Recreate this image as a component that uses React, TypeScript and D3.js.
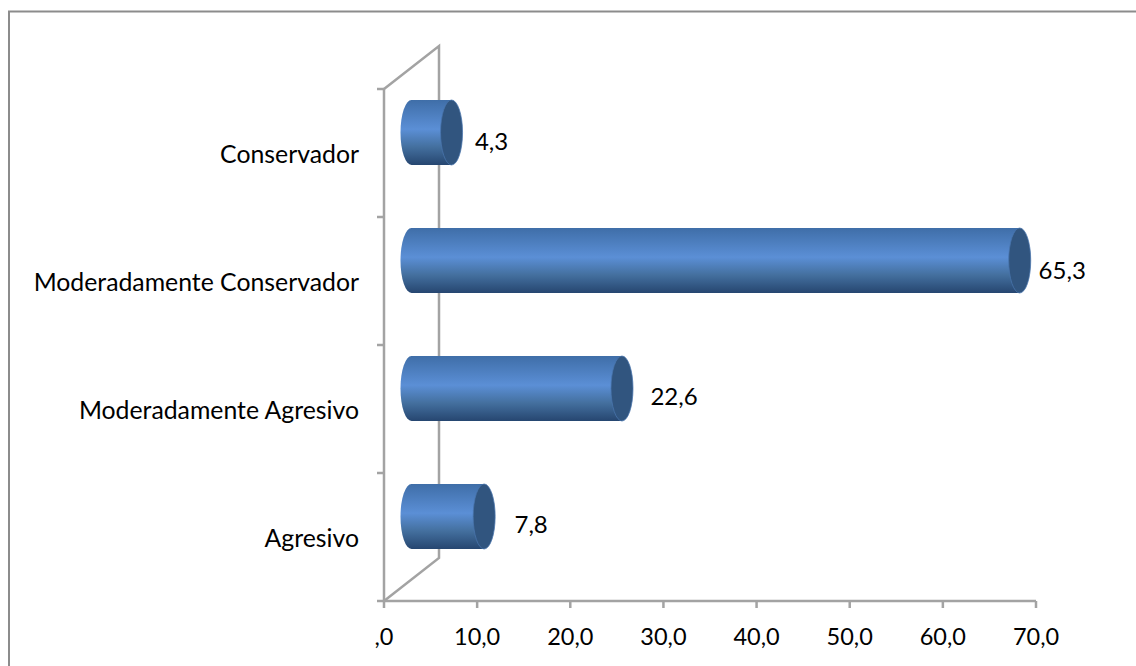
import { useEffect, useRef } from 'react';
import * as d3 from 'd3';

const categories = ['Conservador', 'Moderadamente Conservador', 'Moderadamente Agresivo', 'Agresivo'];
const values = [4.3, 65.3, 22.6, 7.8];
const valueLabels = ['4,3', '65,3', '22,6', '7,8'];
const xTicks = [0, 10, 20, 30, 40, 50, 60, 70];
const xTickLabels = [',0', '10,0', '20,0', '30,0', '40,0', '50,0', '60,0', '70,0'];

const width = 1136;
const height = 666;
const font = "Lato, 'Open Sans', sans-serif";
const axisColor = '#a3a3a3';

export default function App() {
  const svgRef = useRef<SVGSVGElement>(null);

  useEffect(() => {
    if (!svgRef.current) return;
    const svg = d3.select(svgRef.current);
    svg.selectAll('*').remove();

    const x = d3.scaleLinear().domain([0, 70]).range([384, 1036]);
    const y = d3.scaleBand<string>().domain(categories).range([89, 601]);
    const depthX = 55;
    const depthY = 43;
    const capRx = 11;
    const barH = 65;
    const top = 89;
    const bottom = 601;
    // data labels sit a little unevenly in the original
    const labelDx = [40, 42.5, 52, 47];
    const labelDy = [17.5, 18, 16, 16];

    const defs = svg.append('defs');
    const grad = defs
      .append('linearGradient')
      .attr('id', 'cyl')
      .attr('x1', '0%')
      .attr('x2', '0%')
      .attr('y1', '0%')
      .attr('y2', '100%');
    grad.append('stop').attr('offset', '0%').attr('stop-color', '#3f6ea8');
    grad.append('stop').attr('offset', '45%').attr('stop-color', '#5b8fd6');
    grad.append('stop').attr('offset', '72%').attr('stop-color', '#44709f');
    grad.append('stop').attr('offset', '100%').attr('stop-color', '#264670');

    // frame, only top and left show in the crop
    svg
      .append('path')
      .attr('d', `M9,${height}V11.5H${width}`)
      .attr('fill', 'none')
      .attr('stroke', '#8c8c8c')
      .attr('stroke-width', 2);

    // walls
    const walls = svg
      .append('g')
      .attr('fill', 'none')
      .attr('stroke', axisColor)
      .attr('stroke-width', 2.5);
    walls
      .append('path')
      .attr('d', `M${x(0)},${top}L${x(0) + depthX},${top - depthY}V${bottom - depthY}L${x(0)},${bottom}`);
    walls.append('path').attr('d', `M${x(0)},${top}V${bottom}`);
    walls.append('path').attr('d', `M${x(0)},${bottom}H${x(70)}`);

    walls
      .selectAll('path.ytick')
      .data([...categories.map((c) => y(c) ?? 0), bottom])
      .join('path')
      .attr('class', 'ytick')
      .attr('d', (d) => `M${x(0) - 7},${d}H${x(0)}`);

    walls
      .selectAll('path.xtick')
      .data(xTicks)
      .join('path')
      .attr('class', 'xtick')
      .attr('d', (d) => `M${x(d)},${bottom}V${bottom + 7}`);

    // bars
    const bars = svg
      .append('g')
      .selectAll('g')
      .data(categories)
      .join('g')
      .attr('transform', (c) => `translate(0,${(y(c) ?? 0) + y.bandwidth() / 2 - depthY / 2 + 1})`);

    const x0 = x(0) + depthX / 2;
    bars
      .append('path')
      .attr('fill', 'url(#cyl)')
      .attr('d', (_, i) => {
        const x1 = x0 + x(values[i]) - x(0);
        const ry = barH / 2;
        return `M${x0},${-ry}H${x1}V${ry}H${x0}A${capRx},${ry} 0 0 1 ${x0},${-ry}Z`;
      });
    bars
      .append('ellipse')
      .attr('cx', (_, i) => x0 + x(values[i]) - x(0))
      .attr('cy', 0)
      .attr('rx', capRx)
      .attr('ry', barH / 2)
      .attr('fill', '#31557f')
      .attr('stroke', '#4a76ad')
      .attr('stroke-width', 0.75);

    // value labels
    bars
      .append('text')
      .attr('x', (_, i) => x0 + x(values[i]) - x(0) + labelDx[i])
      .attr('y', (_, i) => labelDy[i])
      .attr('text-anchor', 'middle')
      .attr('font-family', font)
      .attr('font-size', 24)
      .attr('fill', '#000')
      .text((_, i) => valueLabels[i]);

    // category labels
    svg
      .append('g')
      .selectAll('text')
      .data(categories)
      .join('text')
      .attr('x', 359)
      .attr('y', (c) => (y(c) ?? 0) + y.bandwidth() / 2 + 10)
      .attr('text-anchor', 'end')
      .attr('font-family', font)
      .attr('font-size', 24.8)
      .attr('fill', '#000')
      .text((c) => c);

    // x tick labels
    svg
      .append('g')
      .selectAll('text')
      .data(xTicks)
      .join('text')
      .attr('x', (d) => x(d))
      .attr('y', 645)
      .attr('text-anchor', 'middle')
      .attr('font-family', font)
      .attr('font-size', 23.5)
      .attr('fill', '#000')
      .text((_, i) => xTickLabels[i]);
  }, []);

  return (
    <svg
      ref={svgRef}
      width={width}
      height={height}
      viewBox={`0 0 ${width} ${height}`}
      style={{ position: 'absolute', left: 0, top: 0, background: '#fff' }}
    />
  );
}
